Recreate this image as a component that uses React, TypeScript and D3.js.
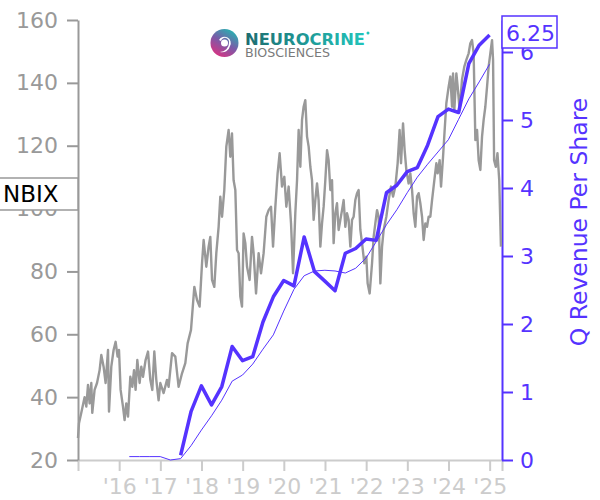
import React, { useEffect, useRef } from "react";
import * as d3 from "d3";

const PURPLE = "#5533ff";

// NBIX share price: [decimal year, price]
const nbixPrice: [number, number][] = [
  [2015.0, 27], [2015.024, 31.7], [2015.08, 35], [2015.16, 40], [2015.202, 37],
  [2015.243, 43.9], [2015.282, 38], [2015.323, 44.5], [2015.347, 35], [2015.403, 42.3],
  [2015.462, 44.5], [2015.525, 48.6], [2015.566, 53.4], [2015.622, 49.7], [2015.671, 44.5],
  [2015.729, 55], [2015.753, 35.4], [2015.809, 49.7], [2015.865, 55], [2015.914, 57.6],
  [2015.962, 52.9], [2015.996, 55], [2016.035, 42.3], [2016.093, 37], [2016.132, 32.7],
  [2016.173, 38], [2016.215, 33.8], [2016.271, 46.5], [2016.319, 43.3], [2016.361, 48.6],
  [2016.399, 42.3], [2016.441, 51.8], [2016.497, 44.5], [2016.538, 49.7], [2016.579, 46.5],
  [2016.642, 51.8], [2016.701, 54.5], [2016.757, 45.5], [2016.805, 42.3], [2016.854, 54.5],
  [2016.902, 45.5], [2016.958, 39], [2017.0, 44.5], [2017.08, 41.3], [2017.162, 45.5],
  [2017.201, 43.3], [2017.284, 54], [2017.364, 52.9], [2017.444, 43.3], [2017.527, 47.6],
  [2017.607, 50.8], [2017.663, 57.1], [2017.745, 61.4], [2017.826, 75.1], [2017.891, 70.9],
  [2017.954, 68.8], [2018.013, 82.6], [2018.052, 90], [2018.117, 81.5], [2018.173, 87.9],
  [2018.214, 91], [2018.256, 77.3], [2018.311, 75.1], [2018.36, 85.8], [2018.416, 94.2],
  [2018.457, 103.8], [2018.499, 97.4], [2018.554, 105.9], [2018.603, 119.7], [2018.659, 125],
  [2018.7, 116.5], [2018.741, 123.9], [2018.78, 109], [2018.822, 105.9], [2018.863, 86.8],
  [2018.902, 85.8], [2018.943, 72], [2018.984, 68.8], [2019.023, 92.1], [2019.065, 89],
  [2019.106, 81.5], [2019.169, 77.3], [2019.227, 91], [2019.266, 85.8], [2019.325, 73],
  [2019.388, 85.8], [2019.446, 79.4], [2019.509, 85.8], [2019.575, 97.4], [2019.631, 99.5],
  [2019.689, 100.6], [2019.738, 87.9], [2019.794, 100.6], [2019.849, 111.2], [2019.898, 117.6],
  [2019.956, 107], [2020.012, 110.1], [2020.061, 100.6], [2020.117, 107], [2020.175, 95.3],
  [2020.224, 79.4], [2020.279, 98.5], [2020.321, 109], [2020.36, 125], [2020.401, 113.3],
  [2020.442, 128.2], [2020.481, 132.4], [2020.522, 134.5], [2020.564, 122.9], [2020.603, 119.7],
  [2020.644, 113.3], [2020.685, 109], [2020.724, 96.4], [2020.765, 102.7], [2020.807, 108],
  [2020.845, 102.7], [2020.887, 87.9], [2020.928, 95.3], [2020.967, 100.6], [2021.008, 109],
  [2021.05, 118.6], [2021.088, 115.4], [2021.13, 105.9], [2021.171, 109], [2021.21, 89],
  [2021.251, 98.5], [2021.292, 101.7], [2021.331, 93.2], [2021.373, 96.4], [2021.414, 99.5],
  [2021.453, 102.7], [2021.494, 94.2], [2021.535, 98.5], [2021.574, 96.4], [2021.616, 87.9],
  [2021.657, 96.4], [2021.696, 97.4], [2021.737, 102.7], [2021.778, 104.9], [2021.817, 105.9],
  [2021.859, 93.2], [2021.9, 89], [2021.956, 82.6], [2022.004, 84.7], [2022.036, 76.2],
  [2022.085, 73], [2022.143, 82.6], [2022.182, 91], [2022.223, 95.3], [2022.264, 99.5],
  [2022.303, 97.4], [2022.345, 76.2], [2022.386, 87.9], [2022.425, 93.2], [2022.49, 97.4],
  [2022.546, 102.7], [2022.604, 107], [2022.653, 103.8], [2022.709, 107], [2022.765, 114.4],
  [2022.813, 125], [2022.847, 114.4], [2022.896, 127.1], [2022.935, 118.6], [2022.976, 112.3],
  [2023.032, 108], [2023.073, 111.2], [2023.115, 105.9], [2023.154, 98.5], [2023.195, 94.2],
  [2023.236, 103.8], [2023.275, 104.9], [2023.316, 101.7], [2023.358, 97.4], [2023.397, 90],
  [2023.438, 95.3], [2023.479, 94.2], [2023.518, 97.4], [2023.559, 97.4], [2023.601, 102.7],
  [2023.656, 109], [2023.705, 114.4], [2023.737, 111.2], [2023.785, 115.4], [2023.819, 107],
  [2023.868, 116.5], [2023.907, 125], [2023.948, 133.5], [2024.004, 138.8], [2024.045, 142],
  [2024.087, 132.4], [2024.111, 143], [2024.142, 131.4], [2024.191, 143], [2024.223, 138.8],
  [2024.271, 131.4], [2024.329, 141.1], [2024.385, 145.2], [2024.434, 147.3], [2024.49, 149.4],
  [2024.531, 152.6], [2024.572, 153.6], [2024.611, 149.4], [2024.653, 121.8], [2024.694, 125],
  [2024.733, 115.4], [2024.774, 112.3], [2024.815, 122.9], [2024.854, 128.2], [2024.895, 132.4],
  [2024.937, 138.8], [2024.976, 145.2], [2025.017, 149.4], [2025.058, 153.6], [2025.083, 147.3],
  [2025.108, 115.4], [2025.149, 113.3], [2025.19, 117.6], [2025.233, 109], [2025.274, 87.9],
];

const quarterEnds = [
  "2016-03-31", "2016-06-30", "2016-09-30", "2016-12-31",
  "2017-03-31", "2017-06-30", "2017-09-30", "2017-12-31",
  "2018-03-31", "2018-06-30", "2018-09-30", "2018-12-31",
  "2019-03-31", "2019-06-30", "2019-09-30", "2019-12-31",
  "2020-03-31", "2020-06-30", "2020-09-30", "2020-12-31",
  "2021-03-31", "2021-06-30", "2021-09-30", "2021-12-31",
  "2022-03-31", "2022-06-30", "2022-09-30", "2022-12-31",
  "2023-03-31", "2023-06-30", "2023-09-30", "2023-12-31",
  "2024-03-31", "2024-06-30", "2024-09-30", "2024-12-31",
];

// quarterly revenue per share (thick line)
const qRevenuePerShare: (number | null)[] = [
  null, null, null, null,
  null, 0.07, 0.71, 1.09,
  0.81, 1.08, 1.67, 1.46,
  1.52, 2.03, 2.40, 2.64,
  2.56, 3.28, 2.77, 2.63,
  2.49, 3.04, 3.11, 3.25,
  3.23, 3.93, 4.04, 4.24,
  4.30, 4.63, 5.05, 5.16,
  5.11, 5.83, 6.10, 6.25,
];

// smoothed trend of the same (thin line)
const qRevenueTrend: number[] = [
  0.05, 0.05, 0.05, 0.05,
  0.0, 0.02, 0.21, 0.44,
  0.65, 0.88, 1.16, 1.25,
  1.41, 1.63, 1.84, 2.19,
  2.51, 2.71, 2.78, 2.79,
  2.78, 2.75, 2.82, 2.97,
  3.21, 3.46, 3.68, 3.93,
  4.16, 4.35, 4.53, 4.71,
  5.01, 5.31, 5.56, 5.82,
];

const yearTicks = [2016, 2017, 2018, 2019, 2020, 2021, 2022, 2023, 2024, 2025];
const priceTicks = [20, 40, 60, 80, 100, 120, 140, 160];
const revenueTicks = [0, 1, 2, 3, 4, 5, 6];

const toYear = (s: string) => {
  const y = +s.slice(0, 4);
  const start = Date.UTC(y, 0, 1);
  const end = Date.UTC(y + 1, 0, 1);
  return y + (Date.parse(s + "T00:00:00Z") - start) / (end - start);
};

export default function App() {
  const svgRef = useRef<SVGSVGElement>(null);

  useEffect(() => {
    const svg = d3.select(svgRef.current);
    svg.selectAll("*").remove();

    const x = d3.scaleLinear().domain([2015, 2025.3]).range([78, 502]);
    const yPrice = d3.scaleLinear().domain([20, 160]).range([460, 20]);
    const yRev = d3.scaleLinear().domain([0, 440 / 68]).range([460, 20]);

    // axes
    const bottom = svg
      .append("g")
      .attr("transform", "translate(0,460)")
      .call(
        d3
          .axisBottom(x)
          .tickValues(yearTicks)
          .tickFormat((d: any) => "'" + String(d).slice(2))
          .tickSize(11)
          .tickPadding(7)
      );
    bottom.selectAll("path,line").attr("stroke", "#cccccc").attr("stroke-width", 2);
    bottom.selectAll("text").attr("fill", "#cccccc");

    const left = svg
      .append("g")
      .attr("transform", "translate(78,0)")
      .call(d3.axisLeft(yPrice).tickValues(priceTicks).tickSize(11).tickPadding(9).tickSizeOuter(0));
    left.selectAll("path,line").attr("stroke", "#999999").attr("stroke-width", 2);
    left.selectAll("text").attr("fill", "#999999");

    const right = svg
      .append("g")
      .attr("transform", "translate(502,0)")
      .call(
        d3
          .axisRight(yRev)
          .tickValues(revenueTicks)
          .tickFormat(d3.format("d") as any)
          .tickSize(11)
          .tickPadding(7)
          .tickSizeOuter(0)
      );
    right.selectAll("path,line").attr("stroke", PURPLE).attr("stroke-width", 2);
    right.selectAll("text").attr("fill", PURPLE);

    svg.selectAll("g").attr("font-size", 22).attr("font-family", "DejaVu Sans");

    // price line
    const priceLine = d3
      .line<[number, number]>()
      .x((d) => x(d[0]))
      .y((d) => yPrice(d[1]));
    svg
      .append("path")
      .attr("d", priceLine(nbixPrice))
      .attr("fill", "none")
      .attr("stroke", "#999999")
      .attr("stroke-width", 2.4)
      .attr("stroke-linejoin", "round");

    // revenue lines
    const revLine = d3
      .line<number | null>()
      .defined((d) => d != null)
      .x((_, i) => x(toYear(quarterEnds[i])))
      .y((d) => yRev(d as number));
    svg
      .append("path")
      .attr("d", revLine(qRevenueTrend))
      .attr("fill", "none")
      .attr("stroke", PURPLE)
      .attr("stroke-width", 1);
    svg
      .append("path")
      .attr("d", revLine(qRevenuePerShare))
      .attr("fill", "none")
      .attr("stroke", PURPLE)
      .attr("stroke-width", 3.5)
      .attr("stroke-linejoin", "round");

    // last value box
    const last = qRevenuePerShare[qRevenuePerShare.length - 1] as number;
    svg
      .append("rect")
      .attr("x", 502)
      .attr("y", 16)
      .attr("width", 55)
      .attr("height", 32)
      .attr("fill", "white")
      .attr("stroke", PURPLE)
      .attr("stroke-width", 1.5);
    svg
      .append("text")
      .attr("x", 506)
      .attr("y", 41)
      .attr("font-size", 22)
      .attr("font-family", "DejaVu Sans")
      .attr("fill", PURPLE)
      .text(d3.format(".2f")(last));

    // axis title
    svg
      .append("text")
      .attr("transform", "translate(587,222) rotate(-90)")
      .attr("text-anchor", "middle")
      .attr("font-size", 23.5)
      .attr("font-family", "DejaVu Sans")
      .attr("fill", PURPLE)
      .text("Q Revenue Per Share");

    // ticker box
    svg
      .append("rect")
      .attr("x", -1)
      .attr("y", 178)
      .attr("width", 79)
      .attr("height", 32)
      .attr("fill", "white")
      .attr("stroke", "#999999")
      .attr("stroke-width", 1.5);
    svg
      .append("text")
      .attr("x", 3)
      .attr("y", 202)
      .attr("font-size", 23)
      .attr("font-family", "DejaVu Sans")
      .attr("fill", "black")
      .text("NBIX");

    // logo
    const defs = svg.append("defs");
    const g1 = defs.append("linearGradient").attr("id", "logoText").attr("x1", "0").attr("x2", "1");
    g1.append("stop").attr("offset", "0").attr("stop-color", "#1d6c70");
    g1.append("stop").attr("offset", "1").attr("stop-color", "#22c4bb");
    const g2 = defs
      .append("linearGradient")
      .attr("id", "logoIcon")
      .attr("x1", "0.8")
      .attr("y1", "0")
      .attr("x2", "0.2")
      .attr("y2", "1");
    g2.append("stop").attr("offset", "0").attr("stop-color", "#20b9b2");
    g2.append("stop").attr("offset", "0.5").attr("stop-color", "#7b5aa8");
    g2.append("stop").attr("offset", "1").attr("stop-color", "#e0307f");

    const logo = svg.append("g");
    logo.append("circle").attr("cx", 224.5).attr("cy", 43).attr("r", 14).attr("fill", "url(#logoIcon)");
    logo
      .append("path")
      .attr("d", "M219,40 A6,6 0 1 1 230,46 A8,8 0 0 1 220,52 A9,9 0 0 0 229,43 A4,4 0 1 0 221,41 Z")
      .attr("fill", "white");
    logo.append("circle").attr("cx", 224.5).attr("cy", 43).attr("r", 3.5).attr("fill", "white");
    logo
      .append("text")
      .attr("x", 245)
      .attr("y", 45)
      .attr("font-size", 16.5)
      .attr("font-weight", "bold")
      .attr("font-family", "DejaVu Sans")
      .attr("textLength", 120)
      .attr("lengthAdjust", "spacingAndGlyphs")
      .attr("fill", "url(#logoText)")
      .text("NEUROCRINE");
    logo.append("circle").attr("cx", 368).attr("cy", 33).attr("r", 1.5).attr("fill", "#22c4bb");
    logo
      .append("text")
      .attr("x", 245)
      .attr("y", 57)
      .attr("font-size", 12)
      .attr("font-family", "DejaVu Sans")
      .attr("textLength", 85)
      .attr("lengthAdjust", "spacingAndGlyphs")
      .attr("fill", "#7a7a7a")
      .text("BIOSCIENCES");
  }, []);

  return (
    <svg
      ref={svgRef}
      width={600}
      height={500}
      style={{ position: "absolute", left: 0, top: 0, background: "white" }}
    />
  );
}
